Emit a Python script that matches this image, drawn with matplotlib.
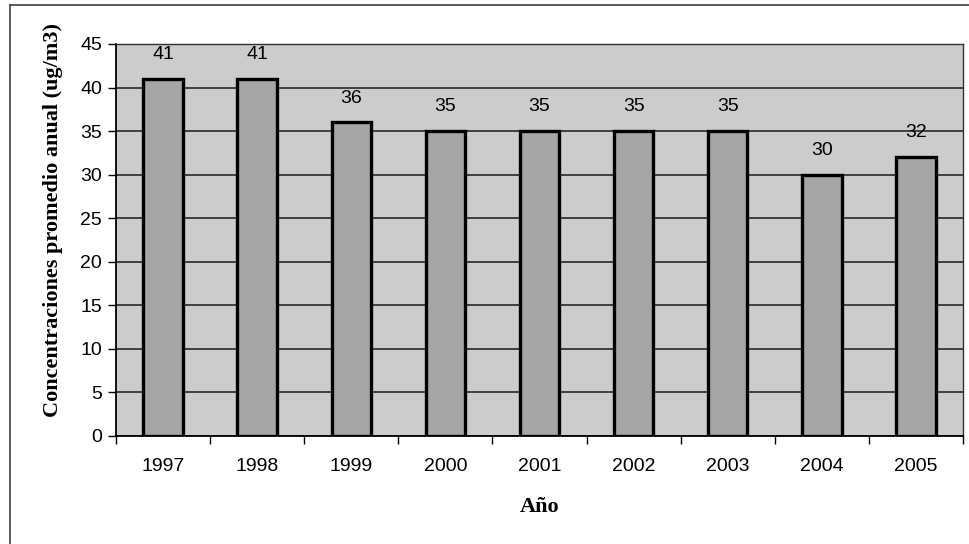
import matplotlib
matplotlib.use("Agg")
import matplotlib.pyplot as plt
from matplotlib.lines import Line2D
import numpy as np

years = ["1997", "1998", "1999", "2000", "2001", "2002", "2003", "2004", "2005"]
values = [41, 41, 36, 35, 35, 35, 35, 30, 32]
yticks = [0, 5, 10, 15, 20, 25, 30, 35, 40, 45]

fig = plt.figure(figsize=(9.70, 5.44), dpi=100)
fig.patch.set_facecolor("white")
ax = fig.add_axes([116/970, 1-436/544, (963-116)/970, (436-44)/544])
ax.set_facecolor("#cccccc")

x = np.arange(len(years))
bars = ax.bar(x, values, width=0.42, color="#a6a6a6", edgecolor="black", linewidth=2.4, zorder=3)
for xi, v in zip(x, values):
    ax.text(xi, v + 2.8, str(v), ha="center", va="center", fontsize=14,
            family="Liberation Sans", zorder=4)

ax.set_xlim(-0.5, len(years) - 0.5)
ax.set_ylim(0, 45)
ax.set_yticks(yticks)
ax.set_yticklabels([str(t) for t in yticks], family="Liberation Sans", fontsize=14)
ax.yaxis.grid(True, color="#1a1a1a", linewidth=1.1, zorder=1)
ax.set_axisbelow(True)

ax.set_xticks(x)
ax.set_xticklabels(years, family="Liberation Sans", fontsize=14)
ax.set_xticks(np.arange(-0.5, len(years)), minor=True)
ax.tick_params(axis="x", which="major", length=0, pad=16)
ax.tick_params(axis="x", which="minor", length=6, width=1, direction="out")
ax.tick_params(axis="y", length=6, width=1, direction="out", pad=4)

for s in ["left", "bottom"]:
    ax.spines[s].set_linewidth(1.3)
for s in ["top", "right"]:
    ax.spines[s].set_linewidth(1.0)
    ax.spines[s].set_color("#303030")

ax.set_xlabel("Año", family="Liberation Serif", fontweight="bold", fontsize=16, labelpad=16)
ax.set_ylabel("Concentraciones promedio anual (ug/m3)", family="Liberation Serif",
              fontweight="bold", fontsize=16)
ax.yaxis.set_label_coords(-53/847, (436-220)/392)

# outer chart border
fig.add_artist(Line2D([10/970, 10/970], [0, 1-5/544], transform=fig.transFigure, color="#404040", linewidth=1.2))
fig.add_artist(Line2D([10/970, 1], [1-5/544, 1-5/544], transform=fig.transFigure, color="#404040", linewidth=1.2))

fig.savefig("out.png", dpi=100)
